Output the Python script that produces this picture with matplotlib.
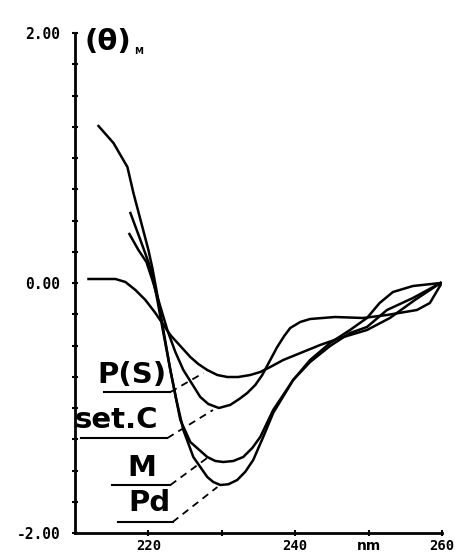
import matplotlib
matplotlib.use('Agg')
import matplotlib.pyplot as plt
from matplotlib.ticker import MultipleLocator

# wavelength (nm) / molar ellipticity
pd_nm = [213.2, 215.24, 217.14, 217.96, 219.18, 220.0, 220.54, 221.22, 222.04, 222.99, 223.81,
         224.76, 226.12, 228.02, 228.84, 229.79, 230.9, 232.1, 233.2, 234.28, 235.64, 237.0,
         239.72, 242.03, 244.75, 247.47, 249.78, 251.5, 253.32, 256.04, 259.8]
pd_val = [1.256, 1.12, 0.928, 0.72, 0.448, 0.264, 0.12, -0.096, -0.376, -0.696, -0.936,
          -1.176, -1.392, -1.552, -1.592, -1.616, -1.61, -1.576, -1.51, -1.416, -1.232, -1.04,
          -0.776, -0.616, -0.48, -0.376, -0.28, -0.16, -0.072, -0.024, 0.0]

m_nm = [217.55, 218.91, 220.0, 220.54, 221.22, 222.04, 222.99, 224.35, 225.71, 228.02, 229.12,
        230.2, 231.56, 232.92, 234.15, 235.24, 237.0, 239.72, 242.03, 244.75, 247.47, 249.78,
        252.5, 256.04, 259.8]
m_val = [0.56, 0.344, 0.168, 0.064, -0.136, -0.4, -0.696, -1.096, -1.272, -1.392, -1.424,
         -1.432, -1.424, -1.392, -1.32, -1.232, -1.016, -0.776, -0.632, -0.504, -0.4, -0.352,
         -0.216, -0.12, 0.0]

setc_nm = [217.41, 218.64, 219.73, 220.54, 221.36, 222.58, 223.67, 224.76, 227.07, 228.16, 229.6,
           231.16, 232.38, 233.47, 234.56, 235.51, 237.55, 238.5, 239.32, 240.68, 242.03, 245.43,
           249.24, 252.5, 256.58, 258.35, 259.8]
setc_val = [0.392, 0.264, 0.168, 0.024, -0.136, -0.376, -0.552, -0.696, -0.912, -0.968, -1.0,
            -0.975, -0.928, -0.88, -0.816, -0.736, -0.512, -0.424, -0.36, -0.312, -0.288, -0.272,
            -0.28, -0.256, -0.216, -0.16, -0.016]

ps_nm = [211.84, 213.47, 215.51, 216.87, 218.23, 219.59, 220.95, 222.99, 225.71, 226.8, 228.02,
         229.39, 230.75, 232.24, 233.88, 235.24, 236.6, 238.37, 243.4, 246.12, 249.78, 252.9,
         256.3, 259.8]
ps_val = [0.032, 0.032, 0.032, 0.008, -0.056, -0.136, -0.24, -0.416, -0.592, -0.648, -0.696,
          -0.736, -0.752, -0.752, -0.736, -0.712, -0.672, -0.616, -0.496, -0.44, -0.376, -0.28,
          -0.136, 0.0]

x_ticks = [220, 230, 240, 250, 260]
x_labels = ['220', '', '240', 'nm', '260']
y_ticks = [-2, 0, 2]
y_labels = ['-2.00', '0.00', '2.00']

# label text, text anchor, underline start/end, leader end
labels = [
    ('P(S)', (217.7, -0.85), (213.9, 223.0, -0.872), (227.5, -0.72)),
    ('set.C', (215.6, -1.21), (210.8, 222.6, -1.24), (228.8, -1.016)),
    ('M', (219.05, -1.59), (215.1, 223.0, -1.616), (228.0, -1.40)),
    ('Pd', (220.1, -1.87), (215.9, 223.3, -1.912), (229.4, -1.632)),
]

def main():
    fig = plt.figure(figsize=(4.56, 5.57), dpi=100)
    ax = fig.add_axes([75/456, 24/557, 367/456, 500/557])

    for xs, ys in [(pd_nm, pd_val), (m_nm, m_val), (setc_nm, setc_val), (ps_nm, ps_val)]:
        ax.plot(xs, ys, color='black', linewidth=1.8, solid_joinstyle='round')

    lab_font = ['Liberation Sans Narrow', 'DejaVu Sans']
    for txt, (tx, ty), (ux0, ux1, uy), (lx, ly) in labels:
        ax.text(tx, ty, txt, ha='center', va='bottom', fontsize=21, fontweight='bold',
                family=lab_font)
        ax.plot([ux0, ux1], [uy, uy], color='black', linewidth=1.5)
        ax.plot([ux1, lx], [uy, ly], color='black', linewidth=1.3, linestyle=(0, (4, 3)))

    ax.set_xlim(210, 260)
    ax.set_ylim(-2, 2)
    ax.spines['top'].set_visible(False)
    ax.spines['right'].set_visible(False)
    ax.spines['left'].set_linewidth(2)
    ax.spines['bottom'].set_linewidth(2)

    ax.set_xticks(x_ticks)
    ax.set_xticklabels(x_labels)
    ax.set_yticks(y_ticks)
    ax.set_yticklabels(y_labels)
    ax.yaxis.set_minor_locator(MultipleLocator(0.25))
    ax.tick_params(axis='both', which='both', direction='inout', length=5, width=1.5)
    ax.tick_params(axis='x', pad=2)
    ax.tick_params(axis='y', pad=8)
    for t in ax.get_xticklabels() + ax.get_yticklabels():
        t.set_family('DejaVu Sans Mono')
        t.set_fontweight('bold')
        t.set_fontsize(10.5)
    ax.get_xticklabels()[3].set_family('DejaVu Sans')
    for t in ax.get_xticklabels():
        t.set_fontsize(10)

    fig.text(85/456, 1 - 42/557, '(θ)', fontsize=21, fontweight='bold', va='center', ha='left')
    fig.text(134/456, 1 - 51/557, 'M', fontsize=6.5, fontweight='bold', va='center', ha='left')

    plt.savefig('out.png', dpi=100)

if __name__ == "__main__":
    main()
